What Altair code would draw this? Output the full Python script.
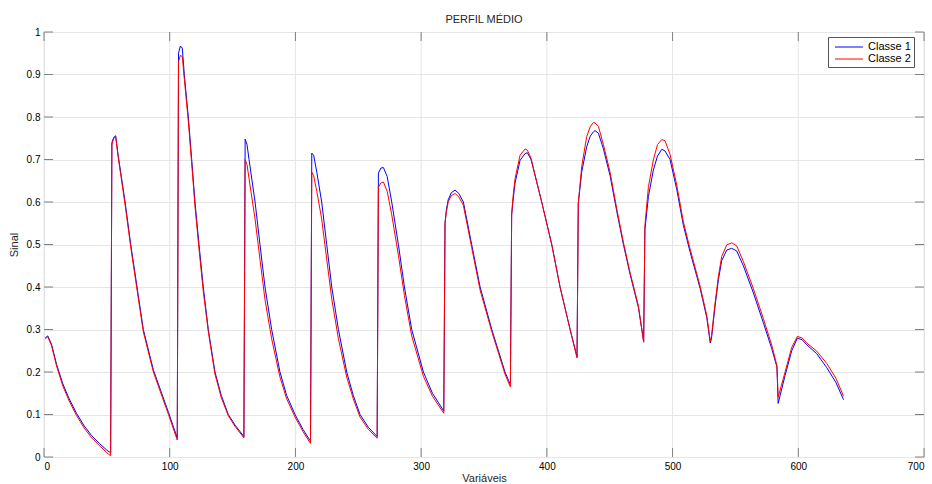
import altair as alt
import pandas as pd

# x positions (variable index) of the read-off points
variaveis = [
    1, 3, 6, 10, 15, 20, 26, 32, 38, 44, 50, 53,
    54, 55.5, 57, 59, 61.5, 64.5, 69, 74, 79, 87, 93, 99, 106,
    107, 108.5, 110, 111.6, 114.8, 117.5, 120.1, 123.3, 126.7, 130.7, 136, 141, 146.6, 152, 159,
    160, 161.5, 163.1, 167.9, 171.8, 175.8, 181.1, 187.7, 193, 199.7, 206, 212,
    213, 214.5, 217, 220.9, 224.9, 228.9, 234.2, 240.8, 246, 251.4, 258, 265,
    266, 268, 270, 273, 276.6, 281.9, 286.7, 292.5, 301.8, 309, 318,
    319, 320, 321.5, 324, 327, 330, 333.6, 340.2, 346.9, 356.2, 362, 366.7, 371,
    372, 373, 374.7, 378.7, 382.7, 384.5, 387.4, 395.9, 403.9, 410.5, 418.5, 424,
    425, 427.7, 431.7, 434.5, 437, 438.3, 441, 445, 450.3, 455.6, 460.9, 466.2, 472.8, 477,
    478, 480.8, 484.7, 488, 491.4, 494, 498, 503.3, 508.6, 513.9, 521.9, 527.2, 530,
    531, 533.8, 536.5, 539.1, 543.1, 547, 551, 556.3, 564.3, 572.2, 578.9, 583,
    584, 589.5, 594.8, 599.3, 603, 606.8, 614.7, 622.7, 630, 636,
]

classe1 = [
    0.280, 0.285, 0.265, 0.218, 0.172, 0.137, 0.102, 0.073, 0.050, 0.032, 0.016, 0.010,
    0.740, 0.752, 0.756, 0.710, 0.660, 0.600, 0.500, 0.400, 0.300, 0.205, 0.155, 0.105, 0.045,
    0.950, 0.967, 0.962, 0.900, 0.800, 0.700, 0.600, 0.500, 0.400, 0.300, 0.200, 0.145, 0.100, 0.075, 0.048,
    0.748, 0.735, 0.700, 0.600, 0.500, 0.400, 0.300, 0.200, 0.145, 0.100, 0.065, 0.037,
    0.715, 0.710, 0.670, 0.600, 0.500, 0.400, 0.300, 0.200, 0.145, 0.100, 0.070, 0.048,
    0.668, 0.680, 0.681, 0.660, 0.600, 0.500, 0.400, 0.300, 0.200, 0.150, 0.108,
    0.550, 0.580, 0.605, 0.622, 0.628, 0.620, 0.600, 0.500, 0.400, 0.300, 0.245, 0.200, 0.170,
    0.570, 0.600, 0.645, 0.698, 0.714, 0.716, 0.700, 0.600, 0.500, 0.400, 0.300, 0.236,
    0.597, 0.670, 0.730, 0.755, 0.765, 0.768, 0.762, 0.725, 0.662, 0.578, 0.500, 0.430, 0.352, 0.272,
    0.535, 0.613, 0.675, 0.708, 0.724, 0.720, 0.700, 0.630, 0.545, 0.483, 0.397, 0.328, 0.268,
    0.280, 0.355, 0.418, 0.462, 0.487, 0.491, 0.485, 0.450, 0.386, 0.316, 0.255, 0.212,
    0.126, 0.192, 0.250, 0.280, 0.276, 0.264, 0.243, 0.210, 0.175, 0.135,
]

classe2 = [
    0.278, 0.283, 0.262, 0.214, 0.167, 0.132, 0.097, 0.068, 0.045, 0.027, 0.010, 0.003,
    0.735, 0.750, 0.754, 0.706, 0.655, 0.594, 0.494, 0.394, 0.295, 0.200, 0.150, 0.100, 0.040,
    0.930, 0.945, 0.942, 0.890, 0.790, 0.690, 0.590, 0.490, 0.390, 0.295, 0.195, 0.140, 0.097, 0.072, 0.045,
    0.700, 0.688, 0.655, 0.560, 0.465, 0.370, 0.278, 0.188, 0.137, 0.094, 0.060, 0.032,
    0.670, 0.662, 0.625, 0.560, 0.465, 0.372, 0.278, 0.188, 0.137, 0.094, 0.065, 0.044,
    0.635, 0.645, 0.647, 0.625, 0.570, 0.475, 0.380, 0.285, 0.190, 0.143, 0.103,
    0.550, 0.575, 0.600, 0.615, 0.620, 0.612, 0.592, 0.493, 0.393, 0.295, 0.240, 0.195, 0.165,
    0.570, 0.610, 0.655, 0.710, 0.725, 0.722, 0.703, 0.600, 0.500, 0.400, 0.300, 0.233,
    0.597, 0.683, 0.754, 0.777, 0.787, 0.786, 0.778, 0.735, 0.670, 0.584, 0.505, 0.434, 0.356, 0.270,
    0.545, 0.636, 0.699, 0.735, 0.747, 0.744, 0.712, 0.640, 0.553, 0.490, 0.402, 0.333, 0.272,
    0.285, 0.362, 0.426, 0.472, 0.499, 0.504, 0.497, 0.460, 0.396, 0.326, 0.263, 0.215,
    0.141, 0.200, 0.258, 0.284, 0.280, 0.268, 0.249, 0.220, 0.185, 0.143,
]

series_names = ["Classe 1", "Classe 2"]
series_colors = ["#0000ff", "#ff0000"]
x_ticks = [0, 100, 200, 300, 400, 500, 600, 700]
y_ticks = [0, 0.1, 0.2, 0.3, 0.4, 0.5, 0.6, 0.7, 0.8, 0.9, 1.0]

rows = []
for xv, a, b in zip(variaveis, classe1, classe2):
    rows.append({"x": xv, "y": a, "serie": series_names[0]})
    rows.append({"x": xv, "y": b, "serie": series_names[1]})
df = pd.DataFrame(rows)

FONT = "Liberation Sans"
FRAME = "#808080"
TXT = "#262626"
GRID = "#e6e6e6"
W, H = 880, 425

xscale = alt.Scale(domain=[0, 700], nice=False, zero=False)
yscale = alt.Scale(domain=[0, 1], nice=False, zero=False)

xaxis = alt.Axis(values=x_ticks, title="Variáveis", format="d",
                 grid=False, tickSize=0, domain=False,
                 labelPadding=4, titlePadding=1, titleFontWeight="normal",
                 titleFont=FONT, titleFontSize=11, titleColor=TXT)
yaxis = alt.Axis(values=y_ticks, title="Sinal", format=".1~f",
                 grid=True, gridColor=GRID, tickSize=0, domain=False,
                 labelPadding=4, titlePadding=7, titleFontWeight="normal",
                 titleFont=FONT, titleFontSize=11, titleColor=TXT)

xt = pd.DataFrame({"x": x_ticks})
yt = pd.DataFrame({"y": y_ticks})

vgrid = alt.Chart(xt).mark_rule(color=GRID, strokeWidth=1).encode(
    x=alt.X("x:Q", scale=xscale, axis=xaxis))

lines = alt.Chart(df).mark_line(strokeWidth=1, clip=True).encode(
    x=alt.X("x:Q", scale=xscale, axis=xaxis),
    y=alt.Y("y:Q", scale=yscale, axis=yaxis),
    color=alt.Color("serie:N",
                    scale=alt.Scale(domain=series_names, range=series_colors),
                    legend=alt.Legend(title=None, orient="none", legendX=784, legendY=5,
                                      symbolType="M-2.15,0H2.15", symbolSize=169,
                                      symbolStrokeWidth=1, symbolOffset=11,
                                      labelFontSize=11, labelFont=FONT,
                                      labelColor="#000000", labelOffset=12,
                                      padding=3, rowPadding=0,
                                      strokeColor="#555555", fillColor="#ffffff")),
)

VTICK = "M0,-1V1"
HTICK = "M-1,0H1"
xtick_bottom = alt.Chart(xt).mark_point(shape=VTICK, size=81, filled=False, color=FRAME,
                                        strokeWidth=1, opacity=1, yOffset=-4.5).encode(
    x=alt.X("x:Q", scale=xscale), y=alt.value(H))
xtick_top = alt.Chart(xt).mark_point(shape=VTICK, size=81, filled=False, color=FRAME,
                                     strokeWidth=1, opacity=1, yOffset=4.5).encode(
    x=alt.X("x:Q", scale=xscale), y=alt.value(0))
ytick_left = alt.Chart(yt).mark_point(shape=HTICK, size=81, filled=False, color=FRAME,
                                      strokeWidth=1, opacity=1, xOffset=4.5).encode(
    y=alt.Y("y:Q", scale=yscale), x=alt.value(0))
ytick_right = alt.Chart(yt).mark_point(shape=HTICK, size=81, filled=False, color=FRAME,
                                       strokeWidth=1, opacity=1, xOffset=-4.5).encode(
    y=alt.Y("y:Q", scale=yscale), x=alt.value(W))

chart = alt.layer(vgrid, lines, xtick_bottom, xtick_top, ytick_left, ytick_right).properties(
    width=W,
    height=H,
    autosize=alt.AutoSizeParams(type="none"),
    padding={"left": 44, "top": 32, "right": 8, "bottom": 27},
    title=alt.TitleParams("PERFIL MÉDIO", fontSize=11, fontWeight="normal", font=FONT,
                          color=TXT, offset=2, anchor="middle"),
).configure_view(
    stroke=FRAME, strokeWidth=1.2
).configure_axis(
    labelFont=FONT, labelFontSize=11, labelColor=TXT,
    gridColor=GRID, gridWidth=1,
).configure(background="#ffffff")

chart.save("out.html", embed_options={"renderer": "svg", "actions": False})
